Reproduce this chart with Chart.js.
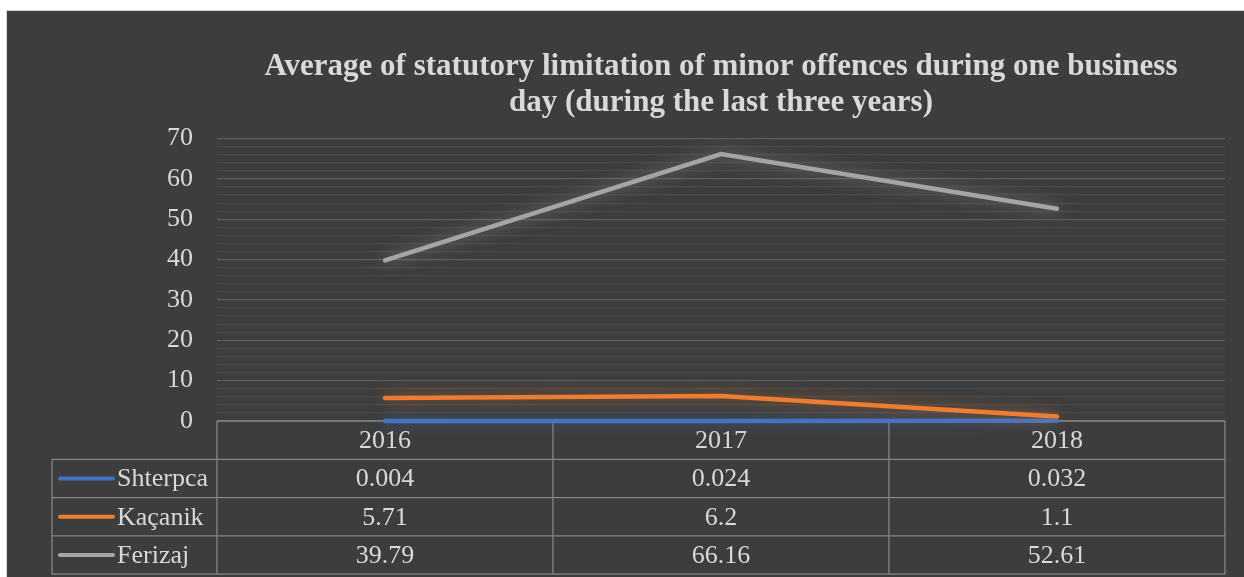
<!DOCTYPE html>
<html>
<head>
<meta charset="utf-8">
<script src="https://cdn.jsdelivr.net/npm/chart.js@4.4.0/dist/chart.umd.min.js"></script>
<style>
  html, body { margin: 0; padding: 0; background: #ffffff; }
  #wrap {
    position: absolute; left: 6px; top: 10px;
    width: 1237px; height: 566px;
    background: #3d3d3d;
    border-left: 1px solid #d6d6d6; border-top: 1px solid #d6d6d6;
  }
</style>
</head>
<body>
<div id="wrap"><canvas id="grafico" width="1237" height="566"></canvas></div>
<script>
// dados
const anos = ["2016", "2017", "2018"];
const shterpca = [0.004, 0.024, 0.032];
const kacanik = [5.71, 6.2, 1.1];
const ferizaj = [39.79, 66.16, 52.61];
const nomes = ["Shterpca", "Kaçanik", "Ferizaj"];
const cores = ["#4472c4", "#ed7d31", "#a5a5a5"];
const titulo = [
  "Average of statutory limitation of minor offences during one business",
  "day (during the last three years)"
];

const FONTE = "'Liberation Serif', 'Times New Roman', serif";
const TEXTO = "#d9d9d9";

// brilho em volta das linhas (efeito "glow" do Excel)
const brilho = {
  id: "brilho",
  beforeDatasetDraw(chart, args) {
    const ctx = chart.ctx;
    ctx.save();
    ctx.shadowColor = args.meta.dataset.options.borderColor + "99";
    ctx.shadowBlur = 16;
  },
  afterDatasetDraw(chart) {
    chart.ctx.restore();
  }
};

// tabela de dados embaixo do gráfico (desenhada antes das linhas)
const tabela = {
  id: "tabela",
  beforeDatasetsDraw(chart) {
    const { ctx, scales: { x, y } } = chart;
    const series = [shterpca, kacanik, ferizaj];
    const n = anos.length;
    const colW = (x.right - x.left) / n;
    const topo = y.getPixelForValue(0);
    const rowH = 38.3;
    const esq = 45;
    const fundo = topo + rowH * (series.length + 1);

    ctx.save();
    ctx.strokeStyle = "#858585";
    ctx.lineWidth = 1.3;

    // linhas horizontais
    ctx.beginPath();
    ctx.moveTo(x.left, topo);
    ctx.lineTo(x.right, topo);
    for (let r = 1; r <= series.length + 1; r++) {
      ctx.moveTo(esq, topo + rowH * r);
      ctx.lineTo(x.right, topo + rowH * r);
    }
    // linhas verticais
    ctx.moveTo(esq, topo + rowH);
    ctx.lineTo(esq, fundo);
    for (let c = 0; c <= n; c++) {
      const px = x.left + colW * c;
      ctx.moveTo(px, topo);
      ctx.lineTo(px, fundo);
    }
    ctx.stroke();

    ctx.fillStyle = TEXTO;
    ctx.font = "26px " + FONTE;
    ctx.textAlign = "center";
    ctx.textBaseline = "middle";
    anos.forEach((a, i) => {
      ctx.fillText(a, x.getPixelForValue(i), topo + rowH / 2 + 1);
    });
    series.forEach((s, r) => {
      const cy = topo + rowH * (r + 1.5) + 1;
      s.forEach((v, i) => {
        ctx.fillText(String(v), x.getPixelForValue(i), cy);
      });
      // chave da legenda
      ctx.strokeStyle = cores[r];
      ctx.lineWidth = 4;
      ctx.lineCap = "round";
      ctx.beginPath();
      ctx.moveTo(53, cy - 1);
      ctx.lineTo(106, cy - 1);
      ctx.stroke();
      ctx.textAlign = "left";
      ctx.fillText(nomes[r], 110, cy);
      ctx.textAlign = "center";
    });
    ctx.restore();
  }
};

const ctx = document.getElementById("grafico").getContext("2d");
new Chart(ctx, {
  type: "line",
  data: {
    labels: anos,
    datasets: [
      { label: nomes[0], data: shterpca, borderColor: cores[0], order: 2, clip: false },
      { label: nomes[1], data: kacanik, borderColor: cores[1], order: 1, clip: false },
      { label: nomes[2], data: ferizaj, borderColor: cores[2], order: 0, clip: false }
    ]
  },
  options: {
    responsive: false,
    animation: false,
    events: [],
    layout: { padding: { left: 0, right: 19, top: 0, bottom: 156 } },
    elements: {
      line: { borderWidth: 4.5, tension: 0, borderCapStyle: "round" },
      point: { radius: 0 }
    },
    scales: {
      x: { type: "category", offset: true, display: false },
      y: {
        min: 0,
        max: 70,
        afterFit(scale) { scale.width = 210; },
        border: { display: false },
        grid: {
          drawTicks: false,
          lineWidth: 1.2,
          color: (c) => (c.tick && c.tick.value % 10 === 0 ? "#5e5e5e" : "#4a4a4a")
        },
        ticks: {
          stepSize: 2,
          autoSkip: false,
          padding: 24,
          color: TEXTO,
          font: { family: FONTE, size: 26 },
          callback: (v) => (v % 10 === 0 ? String(v) : "")
        }
      }
    },
    plugins: {
      legend: { display: false },
      tooltip: { enabled: false },
      title: {
        display: true,
        fullSize: false,
        text: titulo,
        color: TEXTO,
        font: { family: FONTE, size: 31, weight: "bold", lineHeight: 1.17 },
        padding: { top: 38, bottom: 17 }
      }
    }
  },
  plugins: [brilho, tabela]
});
</script>
</body>
</html>
